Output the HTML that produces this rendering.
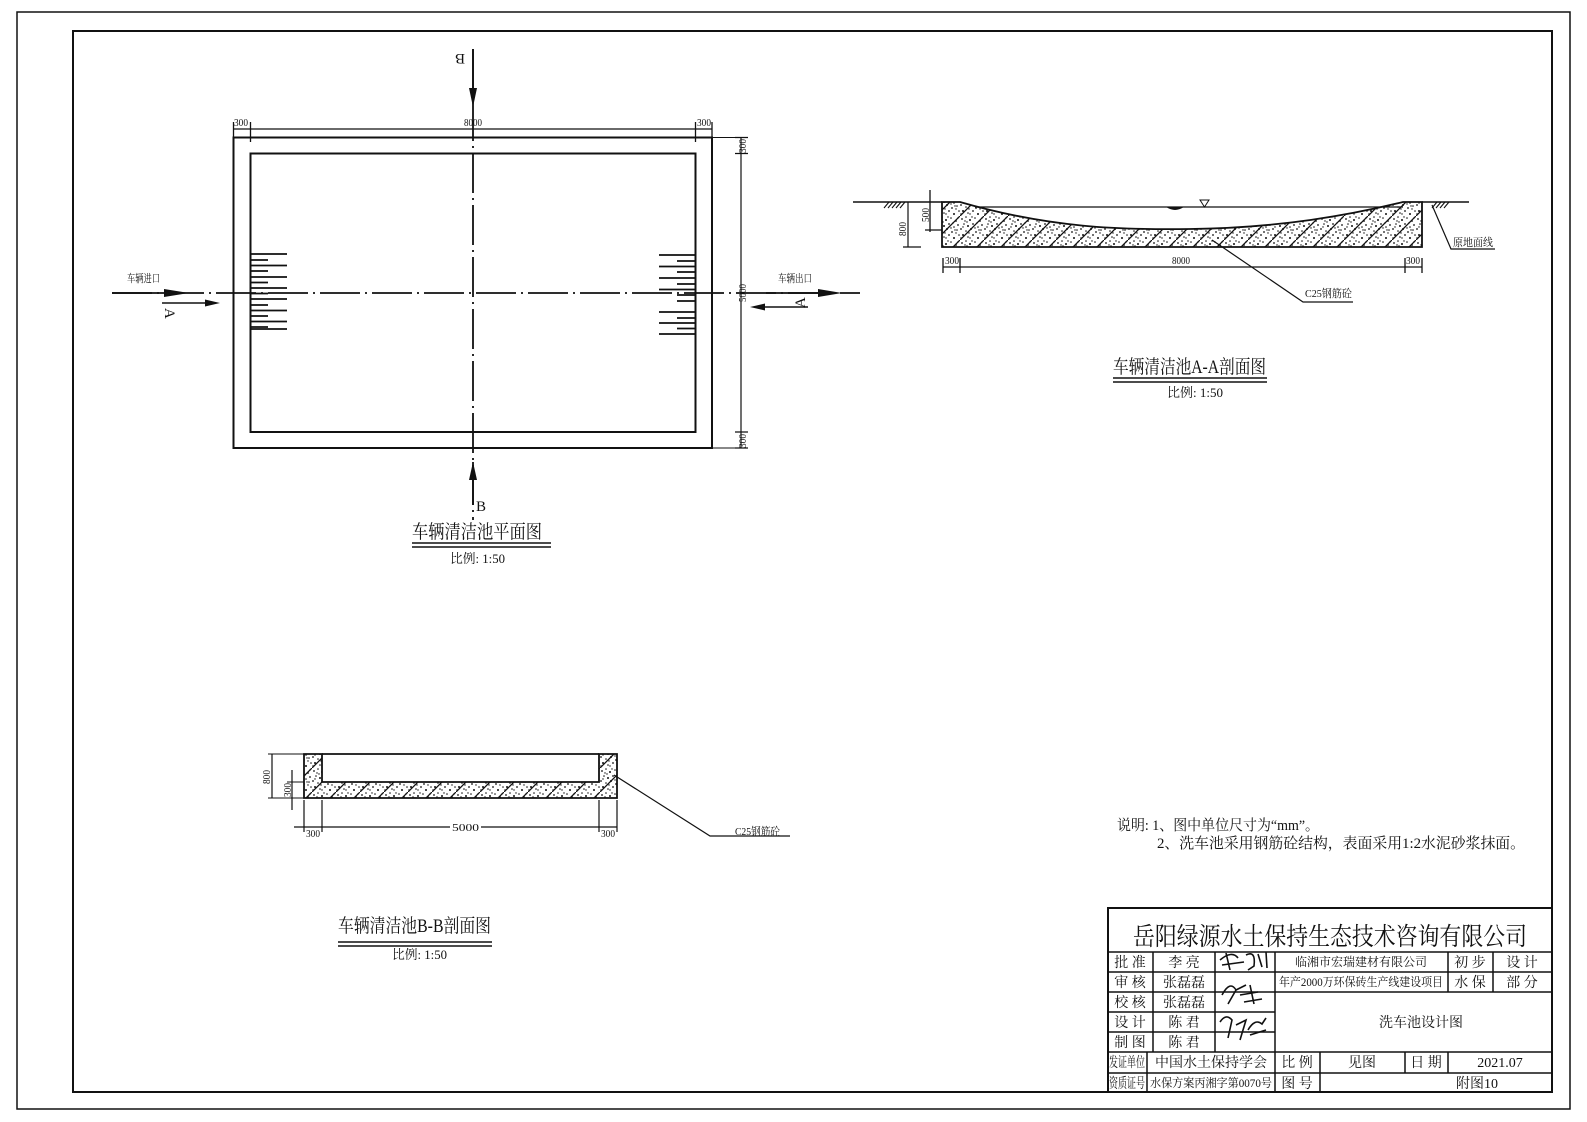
<!DOCTYPE html>
<html><head><meta charset="utf-8"><style>
html,body{margin:0;padding:0;background:#fff;}
svg{display:block;}
text{font-family:"Liberation Serif","Noto Serif CJK SC",serif;fill:#111;}
</style></head><body>
<svg width="1587" height="1122" viewBox="0 0 1587 1122" xmlns="http://www.w3.org/2000/svg">
<defs>
<pattern id="h" width="24" height="24" patternUnits="userSpaceOnUse">
<rect width="24" height="24" fill="#fff"/>
<line x1="0" y1="24" x2="24" y2="0" stroke="#111" stroke-width="1.3"/>
<g fill="#111">
<circle cx="2" cy="3" r="0.9"/><circle cx="6" cy="1" r="0.8"/><circle cx="10" cy="4" r="1"/><circle cx="15" cy="2" r="0.8"/><circle cx="20" cy="5" r="0.9"/>
<circle cx="4" cy="8" r="0.8"/><circle cx="8" cy="10" r="1"/><circle cx="13" cy="8" r="0.9"/><circle cx="18" cy="11" r="0.8"/><circle cx="22" cy="9" r="0.9"/>
<circle cx="1" cy="13" r="0.9"/><circle cx="6" cy="15" r="0.8"/><circle cx="11" cy="13" r="1"/><circle cx="16" cy="16" r="0.9"/><circle cx="21" cy="14" r="0.8"/>
<circle cx="3" cy="19" r="1"/><circle cx="8" cy="21" r="0.8"/><circle cx="13" cy="19" r="0.9"/><circle cx="18" cy="22" r="1"/><circle cx="23" cy="19" r="0.8"/>
<circle cx="5" cy="5" r="0.7"/><circle cx="17" cy="7" r="0.7"/><circle cx="9" cy="17" r="0.7"/><circle cx="20" cy="17" r="0.7"/>
<circle cx="12" cy="1" r="0.7"/><circle cx="1" cy="22" r="0.7"/><circle cx="15" cy="12" r="0.7"/><circle cx="7" cy="6" r="0.7"/><circle cx="22" cy="2" r="0.7"/><circle cx="10" cy="22" r="0.7"/><circle cx="3" cy="11" r="0.7"/><circle cx="19" cy="14" r="0.7"/>
</g>
</pattern>
</defs>
<g fill="none" stroke="#111">
<!-- frames -->
<rect x="17" y="12" width="1553" height="1097" stroke-width="1.5"/>
<rect x="73" y="31" width="1479" height="1061" stroke-width="2"/>

<!-- PLAN -->
<rect x="233.5" y="137.5" width="478.5" height="310.5" stroke-width="2"/>
<rect x="250.5" y="153.5" width="445" height="278.5" stroke-width="2"/>
<line x1="473" y1="49" x2="473" y2="520" stroke-width="1.8" stroke-dasharray="40 5 2 5"/>
<line x1="112" y1="293" x2="860" y2="293" stroke-width="1.8" stroke-dasharray="40 5 2 5"/>
<line x1="473" y1="49" x2="473" y2="95" stroke-width="1.8"/>
<line x1="473" y1="462" x2="473" y2="505" stroke-width="1.8"/>
<line x1="233" y1="129" x2="712" y2="129" stroke-width="1.2"/>
<path d="M233.5,122 V142 M250.5,122 V142 M695.5,122 V142 M712,122 V142" stroke-width="1.3"/>
<line x1="741" y1="137" x2="741" y2="448" stroke-width="1.2"/>
<path d="M735,137.5 H748 M735,153.5 H748 M735,432 H748 M735,448 H748" stroke-width="1.3"/>
<line x1="712" y1="137.5" x2="748" y2="137.5" stroke-width="1"/>
<line x1="712" y1="448" x2="748" y2="448" stroke-width="1"/>
<g stroke-width="1.8">
<path d="M250,254H287 M250,260H268 M250,265.5H287 M250,271H268 M250,277H287 M250,282.5H268 M250,288H287 M250,293.5H268 M250,299H287 M250,305H268 M250,310.5H287 M250,316H268 M250,321.5H287 M250,327H268 M250,329H287"/>
<path d="M659,255H695 M677,261H695 M659,266.5H695 M677,272H695 M659,278H695 M677,284H695 M659,289.5H695 M677,295H695 M677,301H695 M659,312H695 M677,318H695 M659,323H695 M677,328.5H695 M659,334H695"/>
</g>
<line x1="112" y1="293" x2="170" y2="293" stroke-width="1.8"/>
<line x1="162" y1="303" x2="205" y2="303" stroke-width="1.5"/>
<line x1="766" y1="293" x2="830" y2="293" stroke-width="1.8"/>
<line x1="762" y1="307" x2="808" y2="307" stroke-width="1.5"/>

<!-- A-A section -->
<path d="M942,202 L960,202 C1050,228 1120,230 1190,229 C1280,228 1350,215 1403,202 L1422,202 L1422,247 L942,247 Z" fill="url(#h)" stroke-width="1.8"/>
<line x1="853" y1="202" x2="942" y2="202" stroke-width="1.5"/>
<line x1="1422" y1="202" x2="1469" y2="202" stroke-width="1.5"/>
<line x1="975" y1="207" x2="1403" y2="207" stroke-width="1.3"/>
<path d="M884,208 L889,202 M888,208 L893,202 M892,208 L897,202 M896,208 L901,202 M900,208 L905,202" stroke-width="1.1"/>
<path d="M1432,208 L1437,202 M1436,208 L1441,202 M1440,208 L1445,202 M1444,208 L1449,202" stroke-width="1.1"/>
<line x1="908" y1="202" x2="908" y2="247" stroke-width="1.2"/>
<line x1="903" y1="247" x2="921" y2="247" stroke-width="1.2"/>
<line x1="930" y1="190" x2="930" y2="232" stroke-width="1.3"/>
<line x1="925" y1="230" x2="942" y2="230" stroke-width="1.2"/>
<line x1="943" y1="267" x2="1422" y2="267" stroke-width="1.2"/>
<path d="M943,258V273 M960,258V273 M1405,258V273 M1422,258V273" stroke-width="1.3"/>
<path d="M1212,240 L1303,302 H1353" stroke-width="1.2"/>
<path d="M1432,205 L1451,249 H1495" stroke-width="1.2"/>
<path d="M1200,200 H1209 L1204.5,207 Z" stroke-width="1"/>
<path d="M1167,207 Q1175,212 1183,207 Z" fill="#111"/>

<!-- B-B section -->
<path d="M304,754 H322 V782 H599 V754 H617 V798 H304 Z" fill="url(#h)" stroke-width="1.8"/>
<line x1="322" y1="754" x2="599" y2="754" stroke-width="1.8"/>
<line x1="268" y1="754" x2="304" y2="754" stroke-width="1"/>
<line x1="268" y1="798" x2="304" y2="798" stroke-width="1"/>
<line x1="272" y1="754" x2="272" y2="798" stroke-width="1.2"/>
<line x1="292" y1="770" x2="292" y2="810" stroke-width="1.2"/>
<line x1="287" y1="782" x2="304" y2="782" stroke-width="1"/>
<path d="M304,800V832 M322,800V832 M599,800V832 M617,800V832" stroke-width="1.2"/>
<path d="M294,827H450 M481,827H617" stroke-width="1.2"/>
<path d="M614,775 L710,836 H790" stroke-width="1.2"/>

<path d="M412,543H551 M412,547H551" stroke-width="1.5"/>
<path d="M1113,378H1267 M1113,382H1267" stroke-width="1.5"/>
<path d="M338,942H492 M338,946H492" stroke-width="1.5"/>

<!-- Title block -->
<rect x="1108" y="908" width="444" height="184" stroke-width="2"/>
<g stroke-width="1.5">
<path d="M1108,952H1552 M1108,972H1552 M1108,992H1552 M1108,1012H1275 M1108,1032H1275 M1108,1052H1552 M1108,1073H1552"/>
<path d="M1153,952V1052 M1215,952V1052 M1275,952V1092 M1448,952V992 M1493,952V992"/>
<path d="M1147,1052V1092 M1320,1052V1092 M1405,1052V1073 M1448,1052V1073"/>
</g>
<g stroke-width="1.6">
<path d="M1220,960 Q1232,950 1238,958 M1226,953 L1230,970 M1222,965 L1244,962 M1246,955 Q1256,950 1254,966 L1248,970 M1258,954 L1262,967 M1266,952 L1267,968"/>
<path d="M1222,995 Q1230,980 1236,990 L1228,1004 M1236,990 L1246,985 M1240,995 L1258,992 M1244,1002 L1262,999 M1250,985 L1254,1004"/>
<path d="M1220,1022 Q1226,1013 1232,1020 L1228,1038 M1236,1025 L1246,1020 L1240,1040 M1248,1030 Q1255,1018 1262,1024 L1266,1018 M1250,1035 L1266,1030"/>
</g>
</g>

<g fill="#111">
<polygon points="164,289 189,293 164,297"/>
<polygon points="205,299.5 220,303 205,306.5"/>
<polygon points="818,289 842,293 818,297"/>
<polygon points="765,303.5 750,307 765,310.5"/>
<polygon points="469,88 477,88 473,107"/>
<polygon points="469,480 477,480 473,462"/>
</g>

<g font-size="11">
<text x="127" y="282" textLength="33" lengthAdjust="spacingAndGlyphs">车辆进口</text>
<text x="778" y="282" textLength="34" lengthAdjust="spacingAndGlyphs">车辆出口</text>
<text x="234" y="126" textLength="14" lengthAdjust="spacingAndGlyphs">300</text>
<text x="464" y="126" textLength="18" lengthAdjust="spacingAndGlyphs">8000</text>
<text x="697" y="126" textLength="14" lengthAdjust="spacingAndGlyphs">300</text>
<text transform="translate(746,153) rotate(-90)" textLength="14" lengthAdjust="spacingAndGlyphs">300</text>
<text transform="translate(746,302) rotate(-90)" textLength="18" lengthAdjust="spacingAndGlyphs">5000</text>
<text transform="translate(746,448) rotate(-90)" textLength="14" lengthAdjust="spacingAndGlyphs">300</text>
<text transform="translate(906,236) rotate(-90)" textLength="14" lengthAdjust="spacingAndGlyphs">800</text>
<text transform="translate(929,222) rotate(-90)" textLength="14" lengthAdjust="spacingAndGlyphs">500</text>
<text x="945" y="264" textLength="14" lengthAdjust="spacingAndGlyphs">300</text>
<text x="1172" y="264" textLength="18" lengthAdjust="spacingAndGlyphs">8000</text>
<text x="1406" y="264" textLength="14" lengthAdjust="spacingAndGlyphs">300</text>
<text x="1305" y="297" textLength="47" lengthAdjust="spacingAndGlyphs">C25钢筋砼</text>
<text x="1453" y="246" textLength="40" lengthAdjust="spacingAndGlyphs">原地面线</text>
<text transform="translate(270,784) rotate(-90)" textLength="14" lengthAdjust="spacingAndGlyphs">800</text>
<text transform="translate(291,797) rotate(-90)" textLength="14" lengthAdjust="spacingAndGlyphs">300</text>
<text x="306" y="837" textLength="14" lengthAdjust="spacingAndGlyphs">300</text>
<text x="452" y="831" textLength="27" lengthAdjust="spacingAndGlyphs">5000</text>
<text x="601" y="837" textLength="14" lengthAdjust="spacingAndGlyphs">300</text>
<text x="735" y="835" textLength="45" lengthAdjust="spacingAndGlyphs">C25钢筋砼</text>
</g>
<g font-size="15">
<text transform="translate(465,54) rotate(180)">B</text>
<text x="476" y="511">B</text>
<text transform="translate(165,308) rotate(90)">A</text>
<text transform="translate(805,308) rotate(-90)">A</text>
</g>
<g font-size="19">
<text x="412" y="538" textLength="130" lengthAdjust="spacingAndGlyphs">车辆清洁池平面图</text>
<text x="1113" y="373" textLength="153" lengthAdjust="spacingAndGlyphs">车辆清洁池A-A剖面图</text>
<text x="338" y="932" textLength="153" lengthAdjust="spacingAndGlyphs">车辆清洁池B-B剖面图</text>
</g>
<g font-size="13">
<text x="450" y="563" textLength="55" lengthAdjust="spacingAndGlyphs">比例: 1:50</text>
<text x="1167" y="397" textLength="56" lengthAdjust="spacingAndGlyphs">比例: 1:50</text>
<text x="392" y="959" textLength="55" lengthAdjust="spacingAndGlyphs">比例: 1:50</text>
</g>
<g font-size="15">
<text x="1117" y="830" textLength="202" lengthAdjust="spacingAndGlyphs">说明: 1、图中单位尺寸为“mm”。</text>
<text x="1157" y="848" textLength="368" lengthAdjust="spacingAndGlyphs">2、洗车池采用钢筋砼结构，表面采用1:2水泥砂浆抹面。</text>
</g>
<text x="1133" y="945" font-size="25" textLength="394" lengthAdjust="spacingAndGlyphs">岳阳绿源水土保持生态技术咨询有限公司</text>
<g font-size="14" text-anchor="middle">
<text x="1130" y="967">批 准</text><text x="1184" y="967">李 亮</text>
<text x="1130" y="987">审 核</text><text x="1184" y="987">张磊磊</text>
<text x="1130" y="1007">校 核</text><text x="1184" y="1007">张磊磊</text>
<text x="1130" y="1027">设 计</text><text x="1184" y="1027">陈 君</text>
<text x="1130" y="1047">制 图</text><text x="1184" y="1047">陈 君</text>
<text x="1470" y="967">初 步</text><text x="1522" y="967">设 计</text>
<text x="1470" y="987">水 保</text><text x="1522" y="987">部 分</text>
<text x="1421" y="1027">洗车池设计图</text>
<text x="1127" y="1067" textLength="36" lengthAdjust="spacingAndGlyphs">发证单位</text>
<text x="1211" y="1067">中国水土保持学会</text>
<text x="1297" y="1067">比 例</text>
<text x="1362" y="1067">见图</text>
<text x="1426" y="1067">日 期</text>
<text x="1500" y="1067">2021.07</text>
<text x="1127" y="1088" textLength="36" lengthAdjust="spacingAndGlyphs">资质证号</text>
<text x="1211" y="1087" font-size="12" textLength="122" lengthAdjust="spacingAndGlyphs">水保方案丙湘字第0070号</text>
<text x="1297" y="1088">图 号</text>
<text x="1477" y="1088">附图10</text>
</g>
<g font-size="12" text-anchor="middle">
<text x="1361" y="966">临湘市宏瑞建材有限公司</text>
<text x="1361" y="986" textLength="164" lengthAdjust="spacingAndGlyphs">年产2000万环保砖生产线建设项目</text>
</g>
</svg>
</body></html>
